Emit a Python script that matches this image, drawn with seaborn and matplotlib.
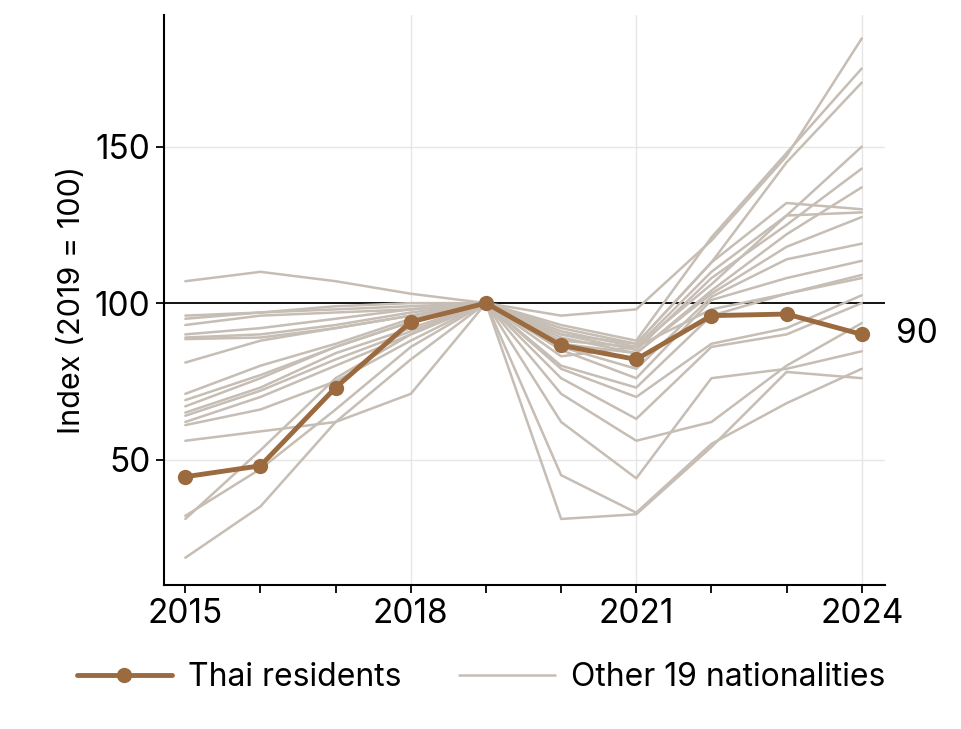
import numpy as np
import pandas as pd
import matplotlib.pyplot as plt
import seaborn as sns
from matplotlib.lines import Line2D

years = list(range(2015, 2025))
thai = [44.5, 48, 73, 94, 100, 86.5, 82, 96, 96.5, 90]

# other 19 nationalities, index 2019 = 100
others = [
    [107, 110, 107, 103, 100, 96, 98, 120, 147, 184.6],
    [96, 97, 99, 100, 100, 93, 88, 121, 148, 175],
    [95, 97, 98, 99, 100, 92, 87, 113, 145, 170.5],
    [93, 96, 97, 98, 100, 91, 86, 110, 128, 150],
    [90, 92, 95, 98, 100, 90, 85, 108, 125, 143],
    [89, 90, 93, 97, 100, 89, 84, 104, 122, 137],
    [88.5, 89, 92, 96, 100, 90, 87, 113, 132, 130],
    [81, 88, 92, 96, 100, 88, 86, 106, 128, 129],
    [71, 80, 87, 95, 100, 87, 84, 103, 118, 127.5],
    [69, 77, 86, 94, 100, 86, 79, 102, 114, 119],
    [65, 73, 84, 92, 100, 85, 76, 101, 108, 113.5],
    [64, 72, 82, 91, 100, 83, 86, 98, 103, 109],
    [62, 70, 80, 90, 100, 80, 73, 96, 103, 108],
    [67, 76, 86, 94, 100, 79, 70, 87, 92, 102.5],
    [61, 66, 75, 88, 100, 76, 63, 86, 90, 100],
    [56, 59, 62, 71, 100, 71, 56, 62, 80, 93.6],
    [32, 47, 66, 86, 100, 62, 44, 76, 79, 84.6],
    [31, 53, 76, 90, 100, 45, 33, 55, 68, 79],
    [18.6, 35, 62, 82, 100, 31, 32.5, 54, 78, 76],
]

rows = []
for i, s in enumerate(others):
    for y, v in zip(years, s):
        rows.append({"Year": y, "Index": v, "Group": f"o{i}"})
df_other = pd.DataFrame(rows)
df_thai = pd.DataFrame({"Year": years, "Index": thai})

sns.set_theme(style="white")
plt.rcParams['font.family'] = ['Inter', 'DejaVu Sans']
plt.rcParams['text.color'] = 'black'
plt.rcParams['axes.labelcolor'] = 'black'
plt.rcParams['xtick.color'] = 'black'
plt.rcParams['ytick.color'] = 'black'

grey = "#c6bdb4"
brown = "#9b6a3e"

fig = plt.figure(figsize=(9.62, 7.29), dpi=100)
ax = fig.add_axes([0.17, 0.198, 0.75, 0.781])

for yv in [50, 150]:
    ax.axhline(yv, color="#e6e6e6", lw=1, zorder=0)
for xv in [2018, 2021, 2024]:
    ax.axvline(xv, color="#e6e6e6", lw=1, zorder=0)
ax.axhline(100, color="black", lw=1.3, zorder=1)

sns.lineplot(data=df_other, x="Year", y="Index", units="Group", estimator=None,
             color=grey, lw=1.8, ax=ax, zorder=2)
sns.lineplot(data=df_thai, x="Year", y="Index", color=brown, lw=3.5,
             marker="o", markersize=11, markeredgewidth=0, ax=ax, zorder=3)

ax.text(2024.45, thai[-1], "90", fontsize=24, va="center", ha="left", clip_on=False)

ax.set_xlim(2014.71, 2024.31)
ax.set_ylim(10, 192)
ax.set_xticks([2015, 2018, 2021, 2024])
ax.set_xticks(years, minor=True)
ax.set_yticks([50, 100, 150])
ax.tick_params(axis="both", which="major", labelsize=24, length=6, width=1.3, direction="out")
ax.tick_params(axis="x", which="minor", length=6, width=1.3, direction="out")
ax.tick_params(axis="x", which="both", bottom=True)
ax.tick_params(axis="y", left=True)
ax.set_xlabel("")
ax.set_ylabel("Index (2019 = 100)", fontsize=22, labelpad=6)
sns.despine(ax=ax)
for sp in ["left", "bottom"]:
    ax.spines[sp].set_color("black")
    ax.spines[sp].set_linewidth(1.5)

handles = [Line2D([], [], color=brown, lw=3.5, marker="o", markersize=11, markeredgewidth=0),
           Line2D([], [], color=grey, lw=1.8)]
fig.legend(handles, ["Thai residents", "Other 19 nationalities"], loc="lower center",
           bbox_to_anchor=(0.5, 0.01), ncol=2, frameon=False, fontsize=23,
           handlelength=3, columnspacing=1.8, handletextpad=0.5)

fig.savefig("out.png", dpi=100)
